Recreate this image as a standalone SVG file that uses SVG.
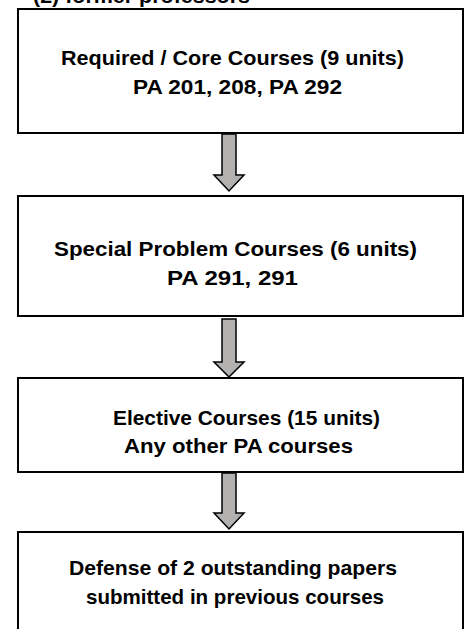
<svg xmlns="http://www.w3.org/2000/svg" width="466" height="629" viewBox="0 0 466 629">
<style>
.box{fill:#fff;stroke:#000;stroke-width:2}
.t{font-family:"Liberation Sans",Arial,sans-serif;font-weight:bold;font-size:21px;fill:#000}
.arr{fill:#b3b0b0;stroke:#000;stroke-width:1.5;stroke-linejoin:miter}
</style>
<rect width="466" height="629" fill="#fff"/>
<text class="t" x="33" y="3" textLength="217" lengthAdjust="spacingAndGlyphs">(2) former professors</text>
<g id="connectors">
<path class="arr" d="M222,134 H236 V175 H244 L229,191 L214,175 H222 Z"/>
<path class="arr" d="M222,319 H236 V362 H244 L229,377 L214,362 H222 Z"/>
<path class="arr" d="M222,473 H236 V513 H244 L229,529 L214,513 H222 Z"/>
</g>
<g id="node1">
<rect class="box" x="18" y="9" width="445" height="124"/>
<text class="t" x="61" y="65" textLength="343" lengthAdjust="spacingAndGlyphs">Required / Core Courses (9 units)</text>
<text class="t" x="133" y="94" textLength="209" lengthAdjust="spacingAndGlyphs">PA 201, 208, PA 292</text>
</g>
<g id="node2">
<rect class="box" x="18" y="196" width="445" height="120"/>
<text class="t" x="54" y="255.5" textLength="363" lengthAdjust="spacingAndGlyphs">Special Problem Courses (6 units)</text>
<text class="t" x="167" y="284.5" textLength="131" lengthAdjust="spacingAndGlyphs">PA 291, 291</text>
</g>
<g id="node3">
<rect class="box" x="18" y="378" width="445" height="94"/>
<text class="t" x="113" y="425" textLength="267" lengthAdjust="spacingAndGlyphs">Elective Courses (15 units)</text>
<text class="t" x="124" y="453" textLength="229" lengthAdjust="spacingAndGlyphs">Any other PA courses</text>
</g>
<g id="node4">
<rect class="box" x="18" y="532" width="445" height="120"/>
<text class="t" x="69" y="575" textLength="328" lengthAdjust="spacingAndGlyphs">Defense of 2 outstanding papers</text>
<text class="t" x="86" y="604" textLength="298" lengthAdjust="spacingAndGlyphs">submitted in previous courses</text>
</g>
</svg>
